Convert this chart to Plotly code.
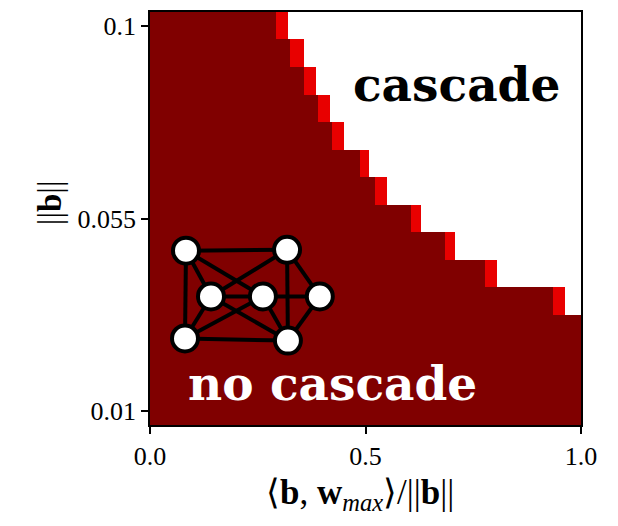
import numpy as np
import plotly.graph_objects as go

# ---- data ----
y_vals = [0.0100, 0.0164, 0.0229, 0.0293, 0.0357, 0.0421, 0.0486, 0.0550,
          0.0614, 0.0679, 0.0743, 0.0807, 0.0871, 0.0936, 0.1000]
# x position where the dark "no cascade" region ends, per row (bottom -> top)
dark_edge = [1.000, 1.000, 1.000, 1.000, 0.935, 0.780, 0.683, 0.607,
             0.525, 0.485, 0.420, 0.390, 0.355, 0.325, 0.290]
# x position where the white "cascade" region begins, per row
white_edge = [1.000, 1.000, 1.000, 1.000, 0.963, 0.807, 0.708, 0.631,
              0.550, 0.510, 0.448, 0.418, 0.383, 0.355, 0.320]
level_no_cascade = 1.0
level_transition = 0.5
level_cascade = 0.0

x_ticks = [0.0, 0.5, 1.0]
x_ticktext = ["0.0", "0.5", "1.0"]
y_ticks = [0.01, 0.055, 0.1]
y_ticktext = ["0.01", "0.055", "0.1"]

x_title = "⟨<b>b</b>, <b>w</b><sub><i>max</i></sub>⟩/||<b>b</b>||"
y_title = "||<b>b</b>||"

# network icon (nodes in data coordinates, edges as index pairs)
node_x = [0.0835, 0.318, 0.1415, 0.262, 0.394, 0.0812, 0.320]
node_y = [0.0475, 0.0477, 0.0368, 0.0368, 0.0368, 0.0270, 0.0265]
edges = [(0, 1), (0, 5), (5, 6), (1, 6), (0, 2), (0, 3), (1, 2), (1, 4),
         (2, 3), (3, 4), (2, 5), (2, 6), (3, 5), (3, 6), (4, 6)]

# ---- build heatmap grid ----
nx = 216
x_centers = (np.arange(nx) + 0.5) / nx
z = []
for de, we in zip(dark_edge, white_edge):
    row = []
    for xc in x_centers:
        if xc < de:
            row.append(level_no_cascade)
        elif xc < we:
            row.append(level_transition)
        else:
            row.append(level_cascade)
    z.append(row)

dy = y_vals[1] - y_vals[0]

fig = go.Figure()
fig.add_trace(go.Heatmap(
    x=x_centers, y=y_vals, z=z,
    colorscale=[[0, "#ffffff"], [0.5, "#e80000"], [1, "#800000"]],
    zmin=0, zmax=1, showscale=False, hoverinfo="skip"))

ex, ey = [], []
for a, b in edges:
    ex += [node_x[a], node_x[b], None]
    ey += [node_y[a], node_y[b], None]
fig.add_trace(go.Scatter(x=ex, y=ey, mode="lines",
                         line=dict(color="black", width=4),
                         hoverinfo="skip", showlegend=False))
fig.add_trace(go.Scatter(x=node_x, y=node_y, mode="markers",
                         marker=dict(size=26, color="white",
                                     line=dict(color="black", width=4)),
                         hoverinfo="skip", showlegend=False))

fig.add_annotation(x=0.712, y=0.0862, text="<b>cascade</b>", showarrow=False,
                   xanchor="center", yanchor="middle",
                   font=dict(family="DejaVu Serif", size=47, color="black"))
fig.add_annotation(x=0.4223, y=0.0165, text="<b>no cascade</b>", showarrow=False,
                   xanchor="center", yanchor="middle",
                   font=dict(family="DejaVu Serif", size=47, color="white"))

# axis titles
fig.add_annotation(xref="paper", yref="paper", x=0.487, y=-0.169,
                   xanchor="center", yanchor="middle",
                   text=x_title, showarrow=False,
                   font=dict(family="Liberation Serif", size=35, color="black"))
fig.add_annotation(xref="paper", yref="paper", x=-0.232, y=0.537,
                   xanchor="center", yanchor="middle",
                   text=y_title, showarrow=False, textangle=-90,
                   font=dict(family="Liberation Serif", size=33, color="black"))

fig.update_layout(
    width=618, height=526,
    margin=dict(l=150, r=37, t=10, b=101),
    paper_bgcolor="white", plot_bgcolor="white",
    font=dict(family="Liberation Serif", size=26, color="black"),
    showlegend=False,
)
fig.update_xaxes(range=[0, 1], tickvals=x_ticks, ticktext=x_ticktext,
                 ticks="outside", ticklen=7, tickwidth=1.5, tickcolor="black",
                 showline=True, linecolor="black", linewidth=1.5, mirror=True,
                 showgrid=False, zeroline=False)
fig.update_yaxes(range=[y_vals[0] - dy / 2, y_vals[-1] + dy / 2],
                 tickvals=y_ticks, ticktext=y_ticktext,
                 ticks="outside", ticklen=7, tickwidth=1.5, tickcolor="black",
                 showline=True, linecolor="black", linewidth=1.5, mirror=True,
                 showgrid=False, zeroline=False)

fig.write_html("out.html")
